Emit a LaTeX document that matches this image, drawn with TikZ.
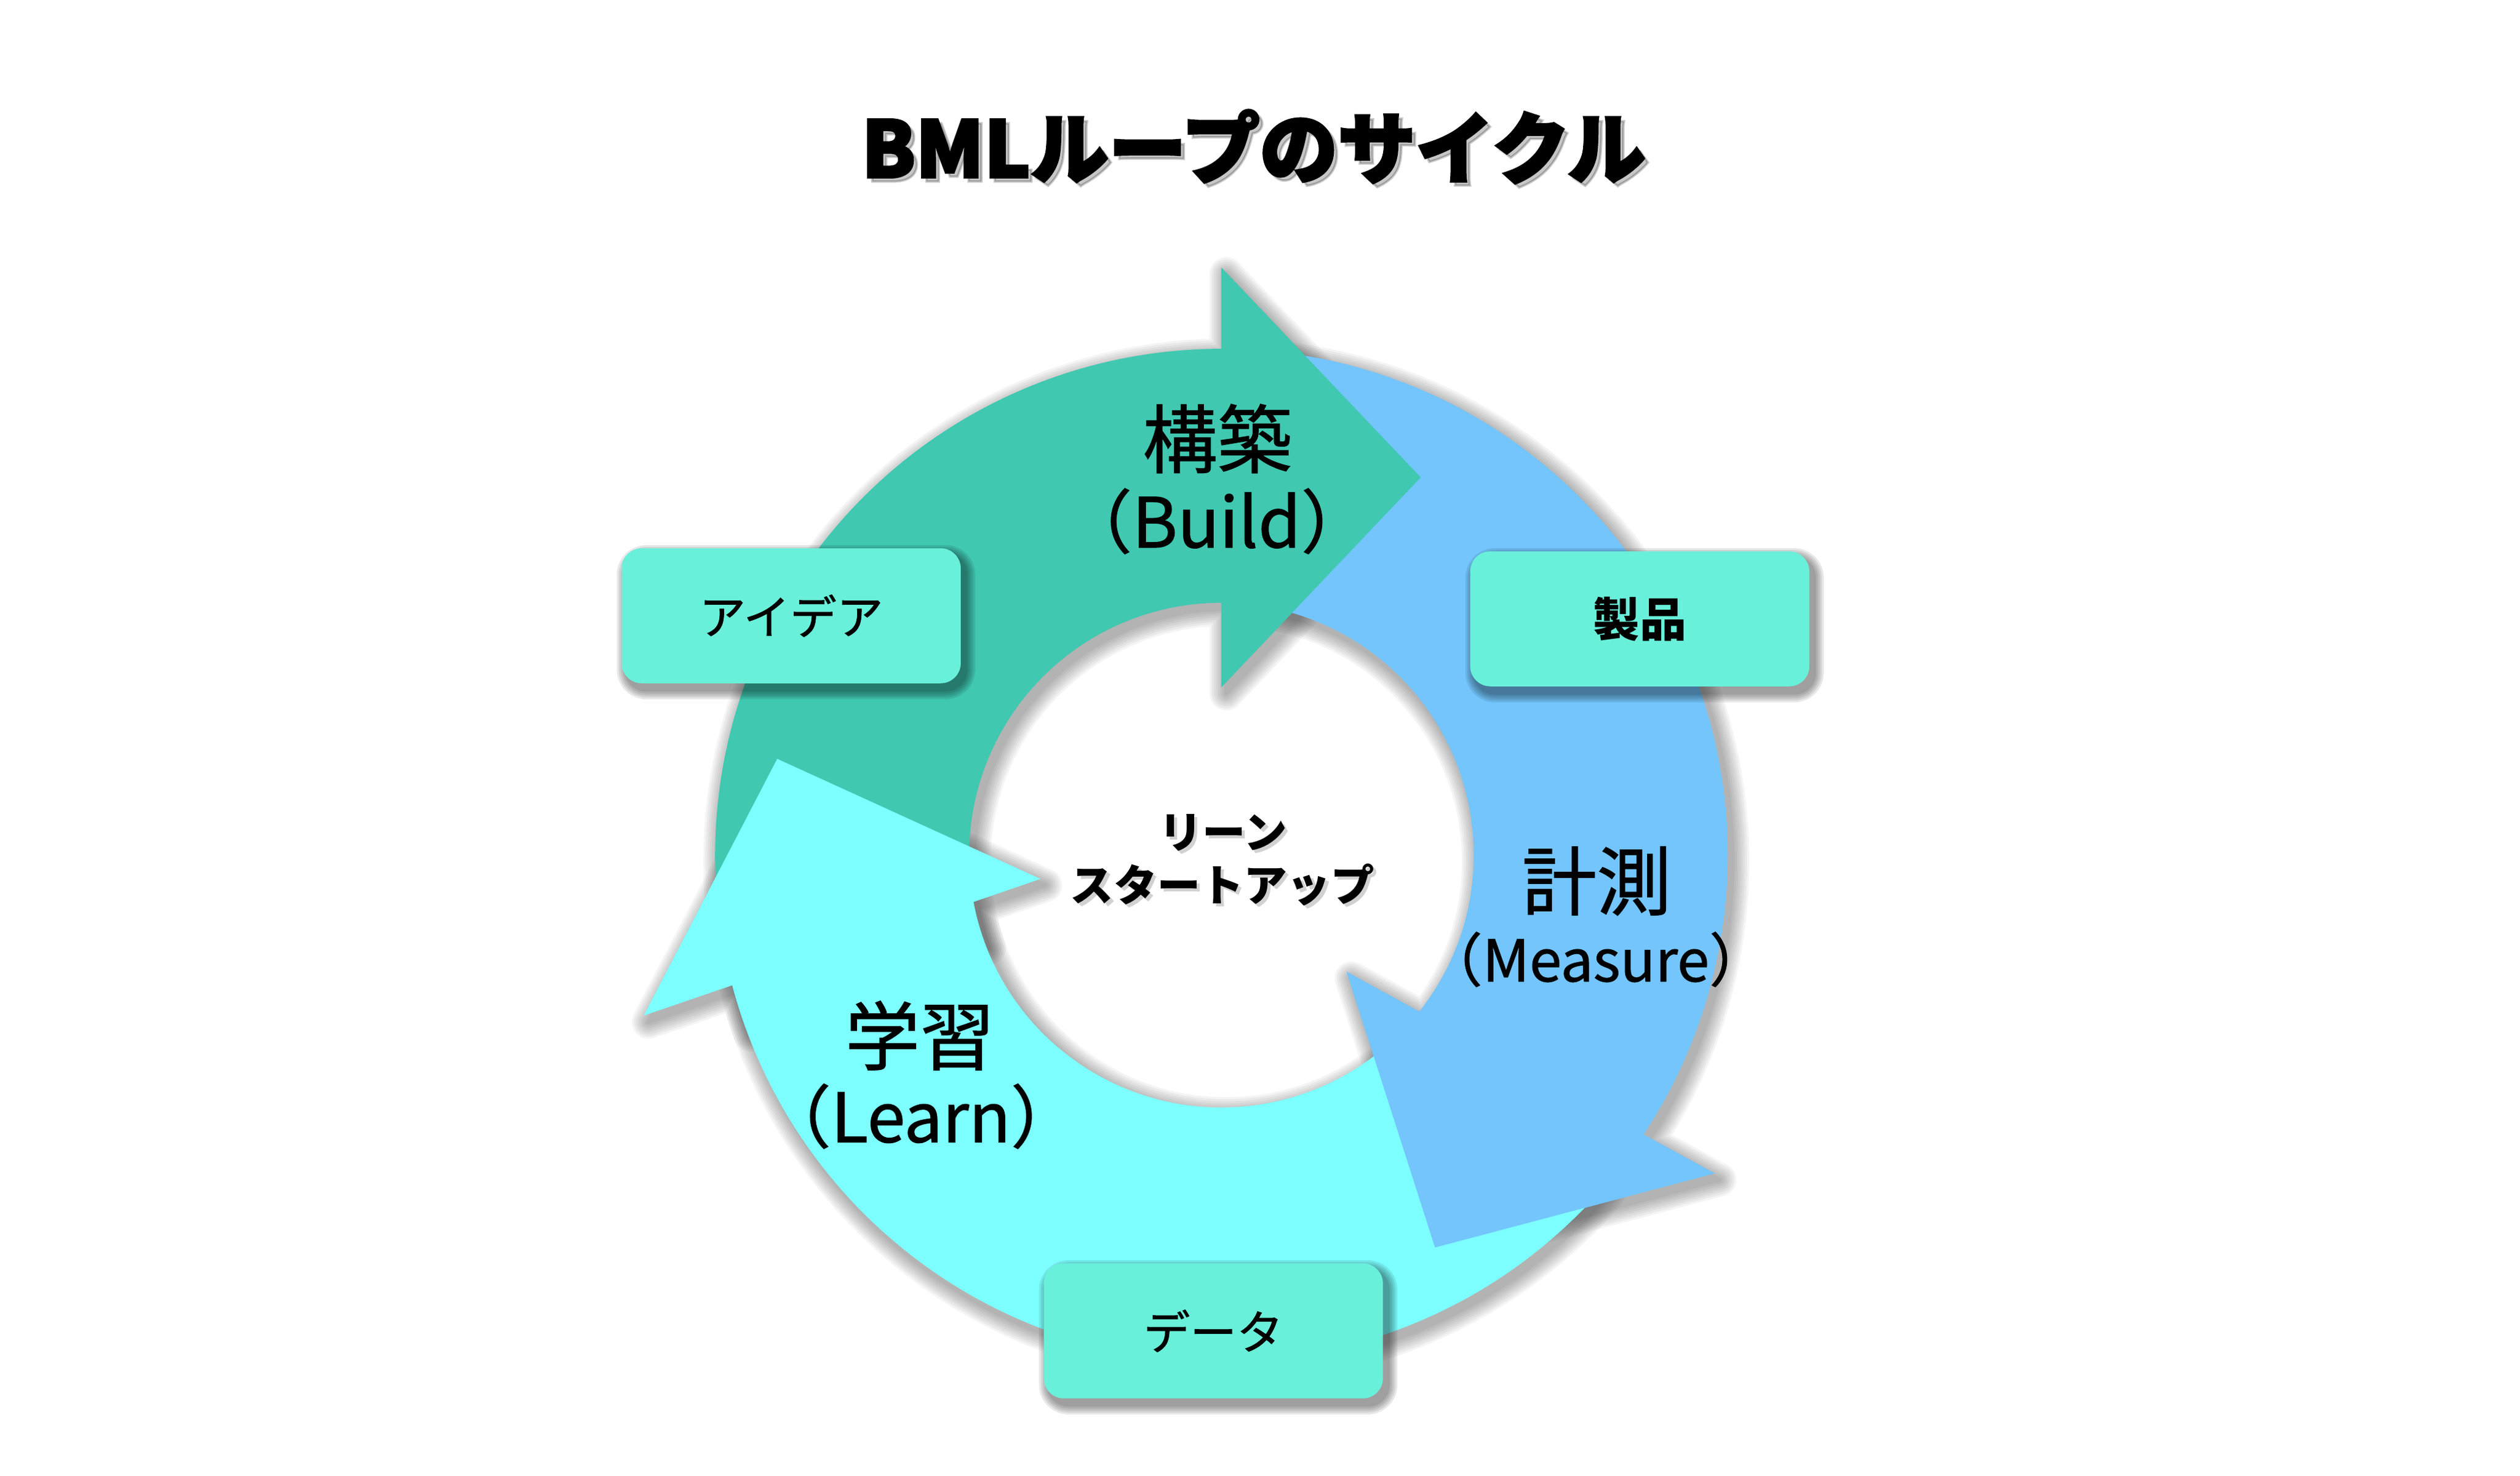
\documentclass[tikz,border=0pt]{standalone}
\usepackage{fontspec}
\setmainfont{Noto Sans CJK JP}
\newfontfamily\jpfont{Noto Sans CJK JP}
\newfontfamily\medfont[FakeBold=1]{Noto Sans CJK JP}
\newfontfamily\titlefont[BoldFeatures={FakeBold=3}]{Noto Sans CJK JP}
\usetikzlibrary{calc}
\definecolor{cTeal}{HTML}{40C8B1}
\definecolor{cBlue}{HTML}{73C5FC}
\definecolor{cCyan}{HTML}{7DFFFF}
\definecolor{cBox}{HTML}{69F0DA}
% ring pieces (origin = ring centre, 1 unit = 1pt)
\newcommand\tealshape[1]{\path[#1] (200:315) arc[start angle=200,end angle=90,radius=315] -- (0,365.5) -- (124,235) -- (0,104.5) -- (90:157) arc[start angle=90,end angle=200,radius=157] -- cycle;}
\newcommand\blueshape[1]{\path[#1] (85:315) arc[start angle=85,end angle=-33.5,radius=315] -- (306.9,-198.0) -- (132.9,-244.1) -- (77.9,-72.6) -- (-38.35:157) arc[start angle=-38.35,end angle=85,radius=157] -- cycle;}
\newcommand\cyanshape[1]{\path[#1] (-41:315) arc[start angle=-41,end angle=-165.1,radius=315] -- (-359.4,-99.8) -- (-276.4,59.9) -- (-112.6,-14.8) -- (-169.3:157) arc[start angle=-169.3,end angle=-41,radius=157] -- cycle;}
\newcommand\tealhead[1]{\path[#1] (0,365.5) -- (124,235) -- (0,104.5) -- cycle;}
\newcommand\bluehead[1]{\path[#1] (306.9,-198.0) -- (132.9,-244.1) -- (77.9,-72.6) -- cycle;}
\newcommand\softshadow[1]{\foreach \k in {1,...,8}{\begin{scope}[shift={(3,-4)},transparency group,opacity=0.045]#1{fill=black,draw=black,line join=round,line width=\k*2.6pt}\end{scope}}}
\newcommand\boxshadow[2]{\foreach \k in {1,...,5}{\fill[black,opacity=0.09,rounded corners={12.5pt+\k*1.2pt}] (#1-105.5-\k*1.2+3,#2-42-\k*1.2-4) rectangle (#1+105.5+\k*1.2+3,#2+42+\k*1.2-4);}}
\tikzset{
  box/.style={fill=cBox, rounded corners=12.5pt, minimum width=211pt, minimum height=84pt, inner sep=0pt, font=\medfont\fontsize{29}{32}\selectfont},
  lbl/.style={anchor=base, inner sep=0pt, font=\medfont\fontsize{46.5}{50}\selectfont},
  ctr/.style={anchor=base, inner sep=0pt, font=\jpfont\bfseries\fontsize{27}{30}\selectfont},
  ttl/.style={anchor=base, inner sep=0pt, font=\titlefont\bfseries\fontsize{48.5}{56}\selectfont}
}
\begin{document}
\begin{tikzpicture}[x=1pt,y=1pt]
\useasboundingbox (-760,-385.9) rectangle (808,532);
% shadows of ring
\softshadow{\tealshape}
\softshadow{\blueshape}
\softshadow{\cyanshape}
% ring pieces
\tealshape{fill=cTeal}
\blueshape{fill=cBlue}
\cyanshape{fill=cCyan}
\tealhead{fill=cTeal}
\bluehead{fill=cBlue}
% title
\node[ttl,text=black,opacity=0.22] at (22.5,419.1) {BMLループのサイクル};
\node[ttl] (title) at (20,421.6) {BMLループのサイクル};
% stage labels
\node[lbl] (build) at (-2.5,241.3) {構築};
\node[lbl,font=\medfont\fontsize{43}{48}\selectfont] (buildEn) at (-3,191.4) {（Build）};
\node[lbl] (measure) at (233.5,-33.7) {計測};
\node[lbl,font=\medfont\fontsize{36}{40}\selectfont] (measureEn) at (233,-78.6) {（Measure）};
\node[lbl] (learn) at (-187.6,-130) {学習};
\node[lbl,font=\medfont\fontsize{42.5}{46}\selectfont] (learnEn) at (-187,-178.6) {（Learn）};
% centre text
\node[ctr,opacity=0.18] at (3,2.3) {リーン};
\node[ctr,opacity=0.18] at (2.5,-30.6) {スタートアップ};
\node[ctr] (lean) at (1,4.3) {リーン};
\node[ctr] (startup) at (0.5,-28.6) {スタートアップ};
% boxes
\boxshadow{-267.7}{148.9}
\boxshadow{260.3}{147}
\boxshadow{-5}{-296}
\node[box] (idea) at (-267.7,148.9) {アイデア};
\node[box,font=\jpfont\bfseries\fontsize{29}{32}\selectfont] (product) at (260.3,147) {製品};
\node[box] (data) at (-5,-296) {データ};
\end{tikzpicture}
\end{document}
